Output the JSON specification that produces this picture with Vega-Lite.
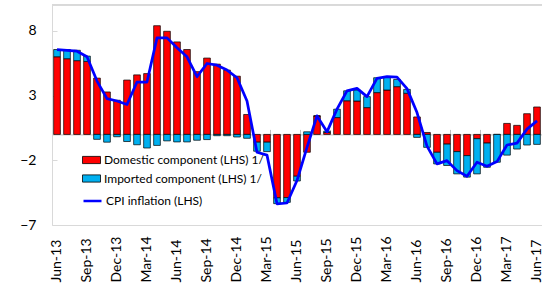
{
  "$schema": "https://vega.github.io/schema/vega-lite/v6.json",
  "width": 490,
  "height": 220,
  "autosize": "none",
  "padding": {"left": 52, "top": 5, "right": 0, "bottom": 63},
  "background": "white",
  "config": {
    "view": {"stroke": null},
    "font": "Lato",
    "axis": {"labelFont": "Lato", "labelColor": "#000000", "grid": false},
    "legend": {"labelFont": "Lato", "labelColor": "#000000"}
  },
  "data": {
    "values": [
      {"m": "Jun-13", "dom": 6.0, "imp": 0.56, "cpi": 6.56},
      {"m": "Jul-13", "dom": 5.85, "imp": 0.71, "cpi": 6.5},
      {"m": "Aug-13", "dom": 5.7, "imp": 0.8, "cpi": 6.43},
      {"m": "Sep-13", "dom": 5.64, "imp": 0.41, "cpi": 6.0},
      {"m": "Oct-13", "dom": 4.35, "imp": -0.38, "cpi": 4.12},
      {"m": "Nov-13", "dom": 3.28, "imp": -0.6, "cpi": 2.77},
      {"m": "Dec-13", "dom": 2.64, "imp": -0.18, "cpi": 2.58},
      {"m": "Jan-14", "dom": 4.2, "imp": -0.55, "cpi": 2.31},
      {"m": "Feb-14", "dom": 4.6, "imp": -0.8, "cpi": 4.05},
      {"m": "Mar-14", "dom": 4.7, "imp": -1.05, "cpi": 4.05},
      {"m": "Apr-14", "dom": 8.4, "imp": -0.85, "cpi": 7.46},
      {"m": "May-14", "dom": 7.97, "imp": -0.5, "cpi": 7.46},
      {"m": "Jun-14", "dom": 7.15, "imp": -0.58, "cpi": 6.7},
      {"m": "Jul-14", "dom": 6.56, "imp": -0.58, "cpi": 6.0},
      {"m": "Aug-14", "dom": 4.85, "imp": -0.45, "cpi": 4.46},
      {"m": "Sep-14", "dom": 5.9, "imp": -0.4, "cpi": 5.48},
      {"m": "Oct-14", "dom": 5.43, "imp": -0.1, "cpi": 5.35},
      {"m": "Nov-14", "dom": 4.97, "imp": -0.1, "cpi": 4.97},
      {"m": "Dec-14", "dom": 4.5, "imp": -0.2, "cpi": 4.38},
      {"m": "Jan-15", "dom": 1.54, "imp": -0.3, "cpi": 2.58},
      {"m": "Feb-15", "dom": -0.6, "imp": -0.7, "cpi": -1.38},
      {"m": "Mar-15", "dom": -0.6, "imp": -0.73, "cpi": -1.6},
      {"m": "Apr-15", "dom": -4.9, "imp": -0.45, "cpi": -5.36},
      {"m": "May-15", "dom": -4.88, "imp": -0.37, "cpi": -5.3},
      {"m": "Jun-15", "dom": -3.23, "imp": -0.37, "cpi": -3.56},
      {"m": "Jul-15", "dom": -1.38, "imp": 0.2, "cpi": -1.0},
      {"m": "Aug-15", "dom": 1.43, "imp": 0.0, "cpi": 1.43},
      {"m": "Sep-15", "dom": 0.15, "imp": 0.1, "cpi": 0.2},
      {"m": "Oct-15", "dom": 1.3, "imp": 0.65, "cpi": 1.95},
      {"m": "Nov-15", "dom": 2.6, "imp": 0.77, "cpi": 3.36},
      {"m": "Dec-15", "dom": 2.58, "imp": 0.85, "cpi": 3.56},
      {"m": "Jan-16", "dom": 2.07, "imp": 0.85, "cpi": 2.92},
      {"m": "Feb-16", "dom": 3.23, "imp": 1.15, "cpi": 4.33},
      {"m": "Mar-16", "dom": 3.43, "imp": 1.03, "cpi": 4.46},
      {"m": "Apr-16", "dom": 3.69, "imp": 0.56, "cpi": 4.43},
      {"m": "May-16", "dom": 3.18, "imp": 0.3, "cpi": 3.54},
      {"m": "Jun-16", "dom": 1.35, "imp": -0.23, "cpi": 1.69},
      {"m": "Jul-16", "dom": 0.15, "imp": -1.0, "cpi": -0.9},
      {"m": "Aug-16", "dom": -1.38, "imp": -0.9, "cpi": -2.28},
      {"m": "Sep-16", "dom": -0.75, "imp": -1.65, "cpi": -2.03},
      {"m": "Oct-16", "dom": -1.33, "imp": -1.72, "cpi": -2.8},
      {"m": "Nov-16", "dom": -1.64, "imp": -1.66, "cpi": -3.23},
      {"m": "Dec-16", "dom": -0.33, "imp": -2.72, "cpi": -2.15},
      {"m": "Jan-17", "dom": -0.67, "imp": -1.87, "cpi": -2.46},
      {"m": "Feb-17", "dom": 0.0, "imp": -2.15, "cpi": -2.1},
      {"m": "Mar-17", "dom": 0.85, "imp": -1.6, "cpi": -0.82},
      {"m": "Apr-17", "dom": 0.7, "imp": -1.13, "cpi": -0.67},
      {"m": "May-17", "dom": 1.6, "imp": -0.82, "cpi": 0.41},
      {"m": "Jun-17", "dom": 2.12, "imp": -0.77, "cpi": 1.05}
    ]
  },
  "layer": [
    {
      "transform": [{"fold": ["dom", "imp"], "as": ["series", "value"]}],
      "mark": {"type": "bar", "stroke": "#000000", "strokeWidth": 0.7},
      "encoding": {
        "x": {
          "field": "m", "type": "ordinal", "sort": null, "title": null,
          "scale": {"paddingInner": 0.33, "paddingOuter": 0.165},
          "axis": {
            "orient": "bottom",
            "values": ["Jun-13","Sep-13","Dec-13","Mar-14","Jun-14","Sep-14","Dec-14","Mar-15","Jun-15","Sep-15","Dec-15","Mar-16","Jun-16","Sep-16","Dec-16","Mar-17","Jun-17"],
            "domain": true, "domainColor": "#d9d9d9", "domainWidth": 1,
            "ticks": false,
            "labelAngle": -90, "labelAlign": "left", "labelBaseline": "middle",
            "labelPadding": 57, "labelFontSize": 14, "labelOverlap": false, "labelBound": false, "labelFlush": false
          }
        },
        "y": {
          "field": "value", "type": "quantitative", "stack": "zero", "title": null,
          "scale": {"domain": [-7, 10], "nice": false, "zero": false},
          "axis": {
            "values": [-7, -2, 3, 8],
            "domain": true, "domainColor": "#d9d9d9", "domainWidth": 1,
            "ticks": true, "tickSize": -5, "tickColor": "#d9d9d9",
            "labelPadding": 21, "labelFontSize": 14, "labelFlush": false, "labelOverlap": false
          }
        },
        "order": {"field": "series", "sort": "ascending"},
        "fill": {
          "field": "series", "type": "nominal",
          "scale": {"domain": ["dom", "imp"], "range": ["#ff0000", "#00b0f0"]},
          "legend": {
            "orient": "none", "legendX": 30, "legendY": 145.5, "direction": "vertical",
            "title": null, "padding": 0,
            "symbolType": "M-1,-0.4H1V0.4H-1Z", "symbolSize": 324,
            "symbolStrokeColor": "#000000", "symbolStrokeWidth": 0.8,
            "labelFontSize": 12, "labelOffset": 3, "rowPadding": 2.5,
            "labelExpr": "datum.label == 'dom' ? 'Domestic component (LHS) 1/' : 'Imported component (LHS) 1/'"
          }
        }
      }
    },
    {
      "mark": {"type": "line", "strokeWidth": 2.75, "strokeJoin": "round"},
      "encoding": {
        "x": {
          "field": "m", "type": "ordinal", "sort": null, "title": null,
          "axis": {
            "orient": "bottom", "offset": -90.6,
            "values": ["Jun-13","Sep-13","Dec-13","Mar-14","Jun-14","Sep-14","Dec-14","Mar-15","Jun-15","Sep-15","Dec-15","Mar-16","Jun-16","Sep-16","Dec-16","Mar-17","Jun-17"],
            "labels": false, "domain": true, "domainColor": "#c0c0c0", "domainWidth": 1,
            "ticks": true, "tickSize": -5, "tickColor": "#c0c0c0", "tickBand": "extent"
          }
        },
        "y": {"field": "cpi", "type": "quantitative", "title": null},
        "stroke": {
          "datum": "CPI inflation (LHS)",
          "scale": {"range": ["#0000ff"]},
          "legend": {
            "orient": "none", "legendX": 30, "legendY": 185.5, "direction": "vertical",
            "title": null, "padding": 0,
            "symbolType": "stroke", "symbolSize": 324, "symbolStrokeWidth": 2.5,
            "labelFontSize": 12, "labelOffset": 3
          }
        }
      }
    },
    {
      "mark": {"type": "rule", "color": "#d9d9d9", "strokeWidth": 1},
      "encoding": {"y": {"datum": 10}}
    }
  ],
  "resolve": {"axis": {"x": "independent"}}
}
